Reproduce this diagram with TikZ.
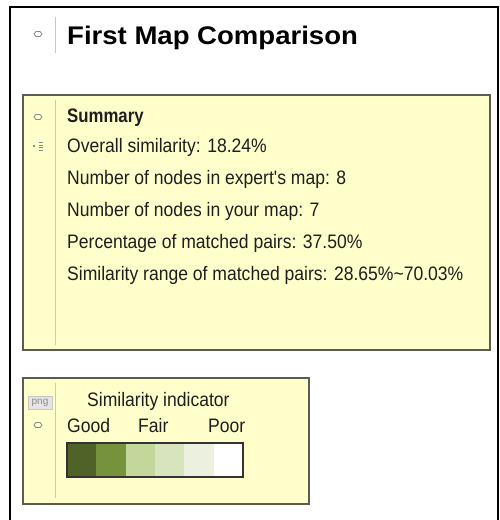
\documentclass[tikz,border=0pt]{standalone}
\usepackage{fontspec}
\setmainfont{Liberation Sans}
\newfontfamily\bodyfont[FakeStretch=0.9]{Liberation Sans}
\newfontfamily\sumfont[FakeStretch=0.86]{Liberation Sans}
\newfontfamily\titlefont[FakeStretch=1.08]{Liberation Sans}
\definecolor{paneyellow}{HTML}{FFFFCC}
\definecolor{paneedge}{HTML}{5C5C52}
\definecolor{sepgray}{HTML}{C8C8C0}
\definecolor{icongray}{HTML}{8A8A8A}
\definecolor{txt}{HTML}{1E1E1E}
\definecolor{gA}{HTML}{4F6228}
\definecolor{gB}{HTML}{76923C}
\definecolor{gC}{HTML}{C3D69B}
\definecolor{gD}{HTML}{D7E4BD}
\definecolor{gE}{HTML}{EBF1DE}
\definecolor{gF}{HTML}{FFFFFF}
\tikzset{
  pane/.style={draw=paneedge, line width=1.3pt, fill=paneyellow},
  sepline/.style={draw=sepgray, line width=0.9pt},
  bodytext/.style={anchor=base west, inner sep=0pt, text=txt, font=\bodyfont\fontsize{19.5}{22}\selectfont},
  sumtext/.style={anchor=base west, inner sep=0pt, text=txt, font=\sumfont\bfseries\fontsize{19.5}{22}\selectfont},
  titletext/.style={anchor=base west, inner sep=0pt, text=black, font=\titlefont\bfseries\fontsize{25.5}{28}\selectfont},
  cell/.style={draw=none, minimum width=29.33pt, minimum height=34pt, inner sep=0pt, outer sep=0pt},
  chev/.style={draw=icongray, line width=0.8pt}
}
\newcommand{\chevicon}[1]{\draw[chev] ($#1+(-4,0)$) -- ++(2,-2.5) -- ++(4,0) -- ++(2,2.5) -- ++(-2,2.5) -- ++(-4,0) -- cycle;}
\usetikzlibrary{calc}
\begin{document}
\begin{tikzpicture}[x=1pt,y=-1pt]
\useasboundingbox (0,0) rectangle (499,520);
\fill[white] (0,0) rectangle (499,520);
% outer frame
\draw[black, line width=1.5pt] (10,520) -- (10,7) -- (498,7) -- (498,520);
% title
\chevicon{(38,34)}
\draw[sepline] (55,17) -- (55,53);
\node[titletext] (title) at (67,44) {First Map Comparison};
% summary pane
\draw[pane] (23,95) rectangle (490,350);
\draw[sepline] (55,100) -- (55,345);
\chevicon{(38,117)}
\fill[icongray] (34,146) circle (1.3pt);
\foreach \yy in {142.5,145,147.5,150}{\draw[icongray, line width=0.9pt] (39,\yy) -- (43,\yy);}
\node[sumtext] (sum) at (67,122) {Summary};
\node[bodytext] (l1) at (67,152) {Overall similarity: 18.24\%};
\node[bodytext] (l2) at (67,184) {Number of nodes in expert's map: 8};
\node[bodytext] (l3) at (67,216) {Number of nodes in your map: 7};
\node[bodytext] (l4) at (67,248) {Percentage of matched pairs: 37.50\%};
\node[bodytext] (l5) at (67,280) {Similarity range of matched pairs: 28.65\%\textasciitilde 70.03\%};
% indicator pane
\draw[pane] (23,378) rectangle (309,504);
\draw[sepline] (55,383) -- (55,498);
\node[draw=sepgray, fill=black!10, minimum width=24pt, minimum height=13pt, inner sep=0pt, text=icongray, font=\fontsize{10}{11}\selectfont] (png) at (40,402.5) {png};
\chevicon{(38,425)}
\node[bodytext] (ind) at (87,406) {Similarity indicator};
\node[bodytext] (good) at (67,432) {Good};
\node[bodytext] (fair) at (138,432) {Fair};
\node[bodytext] (poor) at (208,432) {Poor};
\foreach \c [count=\i from 0] in {gA,gB,gC,gD,gE,gF}{
  \node[cell, fill=\c, anchor=north west] (cell\i) at ({67+29.33*\i},443) {};
}
\draw[draw=black!80, line width=1.3pt] (cell0.north west) rectangle (cell5.south east);
\end{tikzpicture}
\end{document}
